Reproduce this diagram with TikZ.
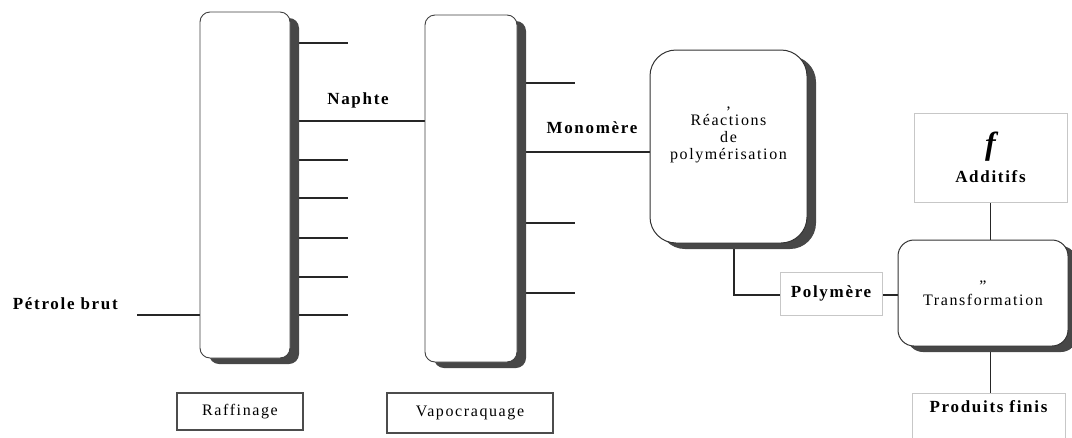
\documentclass[tikz,border=0pt]{standalone}
\usepackage{fontspec}
\setmainfont{Liberation Serif}
\newfontfamily\lblfont[LetterSpace=10]{Liberation Serif}
\usetikzlibrary{shadows,backgrounds,calc}
\begin{document}
\begin{tikzpicture}[x=1pt,y=-1pt,
  shade box/.style={general shadow={fill=black!72, shadow xshift=9pt, shadow yshift=-6pt}},
  column/.style={draw=black!75, line width=0.9pt, fill=white, rounded corners=10pt, shade box, inner sep=0pt},
  process/.style={draw=black!80, line width=1pt, fill=white, shade box, inner sep=0pt, align=center,
    font=\lblfont\fontsize{16}{17}\selectfont},
  stagebox/.style={draw=black!70, line width=1.2pt, fill=white, inner sep=0pt,
    font=\lblfont\fontsize{16}{18}\selectfont},
  lightbox/.style={draw=black!22, line width=0.7pt, fill=white, inner sep=0pt, align=center,
    font=\lblfont\fontsize{17}{19}\selectfont\bfseries},
  flowlabel/.style={inner sep=0pt, font=\lblfont\fontsize{17}{19}\selectfont\bfseries},
  pipe/.style={draw=black!85, line width=1.3pt}
]
\useasboundingbox (0,0) rectangle (1072,437);

% columns
\node[column, minimum width=90pt, minimum height=346pt] (raf) at (245,185) {};
\node[column, minimum width=92pt, minimum height=347pt] (vap) at (471,188.5) {};

% process boxes
\node[process, rounded corners=26pt, minimum width=157pt, minimum height=193pt,
      text height=58pt, text depth=32pt] (reac) at (728.5,146.5)
  {,\\R\'eactions\\de\\polym\'erisation};
\node[process, rounded corners=16pt, minimum width=170pt, minimum height=106pt] (trans) at (983,293)
  {\textquotedblright\\[-3pt]Transformation};

% stage labels
\node[stagebox, minimum width=126pt, minimum height=37pt] (rafl) at (240,411.5) {Raffinage};
\node[stagebox, minimum width=166pt, minimum height=40pt] (vapl) at (470,413) {Vapocraquage};

% light boxes
\node[lightbox, minimum width=102pt, minimum height=43pt] (poly) at (831,293.5) {Polym\`ere};
\node[lightbox, minimum width=153pt, minimum height=89pt] (add) at (990.5,157.5)
  {{\fontsize{32}{32}\selectfont\bfseries\itshape f}\\[9pt]Additifs};
\node[lightbox, minimum width=153pt, text height=14pt, text depth=26pt, inner ysep=5pt, anchor=north] (prod) at (988.5,393) {Produits finis};

% flow labels
\node[flowlabel, anchor=east] (pbl) at (118,304) {P\'etrole brut};
\node[flowlabel] (naphl) at (358,100) {Naphte};
\node[flowlabel] (monol) at (592,128) {Monom\`ere};

% free ends
\coordinate (pb) at (137,315);
\coordinate (r1) at (348,43);
\coordinate (r2) at (348,160);
\coordinate (r3) at (348,198);
\coordinate (r4) at (348,238);
\coordinate (r5) at (348,277);
\coordinate (r6) at (348,315);
\coordinate (nap) at (400,121);
\coordinate (v1) at (575,83);
\coordinate (v2) at (575,223);
\coordinate (v3) at (575,293);
\coordinate (mono) at (600,152);
\coordinate (polybend) at (734,295);

\begin{scope}[on background layer]
  \draw[pipe] (pb) -- (raf.west |- pb);
  \foreach \c in {r1,r2,r3,r4,r5,r6} \draw[pipe] (raf.east |- \c) -- (\c);
  \draw[pipe] (raf.east |- nap) -- (vap.west |- nap);
  \foreach \c in {v1,v2,v3} \draw[pipe] (vap.east |- \c) -- (\c);
  \draw[pipe] (vap.east |- mono) -- (reac.west |- mono);
  \draw[pipe] (reac.south -| polybend) -- (polybend) -- (poly.west |- polybend);
  \draw[pipe] (poly.east |- polybend) -- (trans.west |- polybend);
  \draw[pipe] (add.south) -- (add.south |- trans.north);
  \draw[pipe] (trans.south -| add.south) -- (prod.north -| add.south);
\end{scope}
\end{tikzpicture}
\end{document}
